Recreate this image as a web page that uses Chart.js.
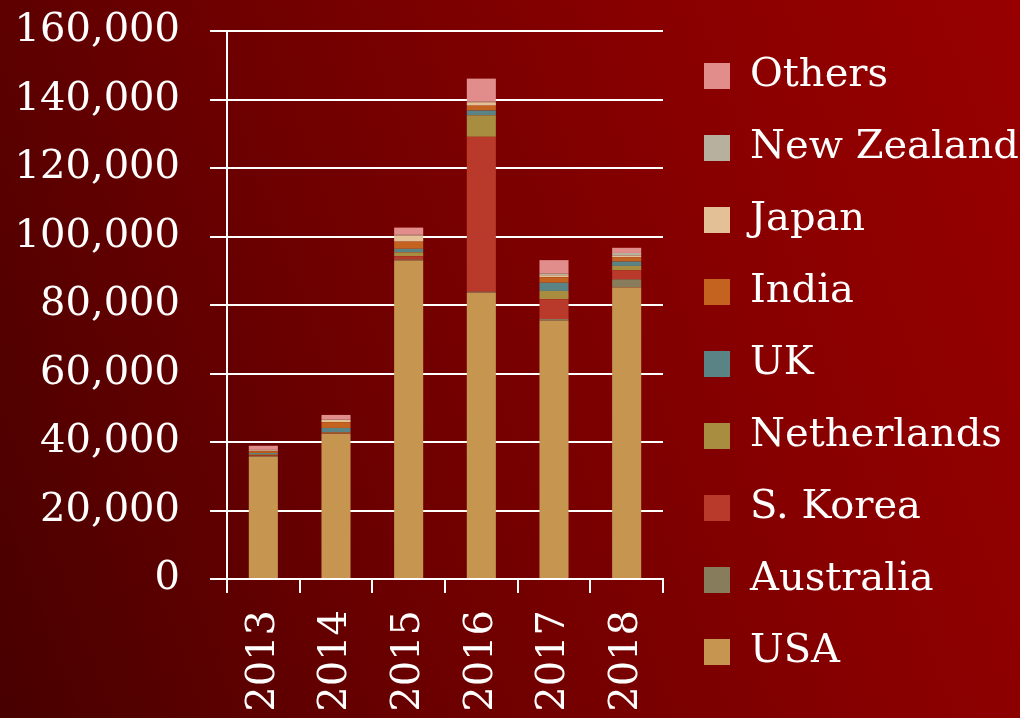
<!DOCTYPE html>
<html>
<head>
<meta charset="utf-8">
<script src="https://cdn.jsdelivr.net/npm/chart.js@4"></script>
<style>
  html, body { margin: 0; padding: 0; }
  body {
    width: 1020px; height: 718px; overflow: hidden;
    background: linear-gradient(70deg, #480000 0%, #6c0000 35%, #880000 70%, #980000 100%);
  }
  #wrap { width: 1020px; height: 718px; }
</style>
</head>
<body>
<div id="wrap"><canvas id="grafico"></canvas></div>
<script>
const years = ['2013', '2014', '2015', '2016', '2017', '2018']
const usa = [35700, 42400, 93000, 83600, 75400, 85100]
const australia = [200, 100, 300, 300, 500, 2400]
const sKorea = [200, 200, 900, 45200, 5800, 2600]
const netherlands = [300, 200, 1200, 6300, 2400, 1300]
const uk = [400, 1200, 1000, 1400, 2400, 1300]
const india = [500, 1700, 2100, 1400, 1600, 1200]
const japan = [300, 700, 1800, 1000, 600, 500]
const newZealand = [100, 100, 200, 200, 500, 800]
const others = [1200, 1300, 2100, 6700, 3900, 1500]

const seriesNames = ['USA', 'Australia', 'S. Korea', 'Netherlands', 'UK', 'India', 'Japan', 'New Zealand', 'Others']
const seriesData = [usa, australia, sKorea, netherlands, uk, india, japan, newZealand, others]
const seriesColors = ['#c69651', '#877c5c', '#b93a2a', '#a88c3f', '#5a8385', '#c4621f', '#e3c096', '#b7b09e', '#e08d8b']

const font = 'DejaVu Serif'
Chart.defaults.font.family = font
Chart.defaults.color = '#ffffff'

const ctx = document.getElementById('grafico')

let grafico = new Chart(ctx, {
  type: 'bar',
  data: {
    labels: years,
    datasets: seriesNames.map((name, i) => ({
      label: name,
      data: seriesData[i],
      backgroundColor: seriesColors[i],
      borderWidth: 0,
      categoryPercentage: 1,
      barPercentage: 0.4
    }))
  },
  options: {
    responsive: true,
    maintainAspectRatio: false,
    animation: false,
    layout: { padding: { left: 15, top: 10, right: 0, bottom: 0 } },
    plugins: {
      tooltip: { enabled: false },
      legend: {
        position: 'right',
        reverse: true,
        maxWidth: 348,
        labels: {
          color: '#ffffff',
          boxWidth: 26,
          boxHeight: 26,
          padding: 32,
          font: { size: 40, family: font }
        }
      }
    },
    scales: {
      x: {
        stacked: true,
        grid: { drawOnChartArea: false, color: '#ffffff', lineWidth: 2, tickLength: 14 },
        border: { color: '#ffffff', width: 2 },
        ticks: { color: '#ffffff', minRotation: 90, maxRotation: 90, padding: 17, font: { size: 40 } },
        afterFit: s => { s.height = 139 }
      },
      y: {
        stacked: true,
        min: 0,
        max: 160000,
        grid: { color: '#ffffff', lineWidth: 2, tickLength: 17 },
        border: { color: '#ffffff', width: 2 },
        ticks: {
          color: '#ffffff',
          stepSize: 20000,
          padding: 30,
          font: { size: 40 },
          callback: v => v.toLocaleString('en-US')
        },
        afterFit: s => { s.width = 212; s.paddingTop = 31; s.paddingBottom = 24 }
      },
      gap: {
        position: 'right',
        display: true,
        grid: { display: false },
        border: { display: false },
        ticks: { display: false },
        afterFit: s => { s.width = 9 }
      }
    }
  }
})
</script>
</body>
</html>
